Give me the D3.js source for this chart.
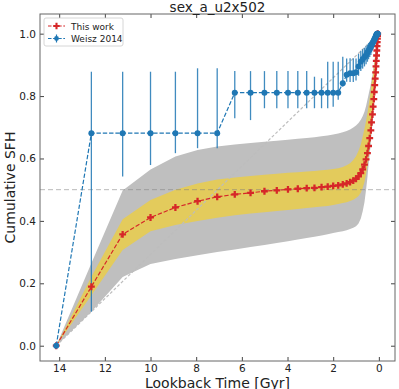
<!DOCTYPE html>
<html lang="en">
<head>
<meta charset="UTF-8">
<title>sex_a_u2x502</title>
<script src="https://cdn.jsdelivr.net/npm/d3@7"></script>
<style>
  body { margin: 0; background: #fff; }
  text { font-family: "DejaVu Sans", sans-serif; fill: #222; }
</style>
</head>
<body>
<svg id="chart" width="399" height="389"></svg>
<script>
// lookback time grid [Gyr]
const lookback = [14.13, 12.59, 11.22, 10.0, 8.91, 7.94, 7.08, 6.31, 5.62, 5.01,
  4.47, 3.98, 3.55, 3.16, 2.82, 2.51, 2.24, 2.0, 1.78, 1.58,
  1.41, 1.26, 1.12, 1.0, 0.89, 0.79, 0.71, 0.63, 0.56, 0.50,
  0.45, 0.40, 0.35, 0.32, 0.28, 0.25, 0.22, 0.20, 0.18, 0.16,
  0.14, 0.126, 0.112, 0.10, 0.089, 0.079, 0.071, 0.063, 0.056, 0.05];

// This work: median cumulative SFH
const sfhMed = [0, 0.189, 0.357, 0.411, 0.443, 0.463, 0.477, 0.485, 0.490, 0.495,
  0.498, 0.501, 0.503, 0.505, 0.506, 0.508, 0.510, 0.512, 0.514, 0.517,
  0.520, 0.524, 0.529, 0.535, 0.543, 0.553, 0.565, 0.580, 0.597, 0.617,
  0.640, 0.665, 0.690, 0.716, 0.741, 0.766, 0.790, 0.813, 0.835, 0.856,
  0.876, 0.895, 0.913, 0.930, 0.946, 0.960, 0.973, 0.984, 0.993, 1.0];

// inner (yellow) band
const sfhLo68 = [0, 0.162, 0.307, 0.367, 0.387, 0.400, 0.410, 0.418, 0.424, 0.428,
  0.432, 0.435, 0.438, 0.441, 0.444, 0.446, 0.448, 0.451, 0.454, 0.457,
  0.460, 0.464, 0.468, 0.473, 0.480, 0.490, 0.505, 0.525, 0.550, 0.580,
  0.610, 0.640, 0.670, 0.700, 0.730, 0.750, 0.775, 0.800, 0.820, 0.840,
  0.860, 0.880, 0.900, 0.920, 0.935, 0.950, 0.965, 0.978, 0.990, 1.0];
const sfhHi68 = [0, 0.221, 0.405, 0.467, 0.500, 0.520, 0.533, 0.539, 0.544, 0.548,
  0.551, 0.554, 0.556, 0.558, 0.560, 0.562, 0.564, 0.566, 0.569, 0.573,
  0.578, 0.585, 0.595, 0.607, 0.625, 0.645, 0.670, 0.695, 0.720, 0.745,
  0.770, 0.795, 0.820, 0.840, 0.855, 0.872, 0.890, 0.903, 0.916, 0.928,
  0.940, 0.950, 0.960, 0.970, 0.978, 0.985, 0.990, 0.994, 0.997, 1.0];

// outer (gray) band
const sfhLo95 = [0, 0.109, 0.220, 0.262, 0.278, 0.290, 0.300, 0.308, 0.316, 0.323,
  0.329, 0.335, 0.340, 0.345, 0.349, 0.353, 0.357, 0.361, 0.364, 0.367,
  0.370, 0.374, 0.378, 0.383, 0.392, 0.408, 0.430, 0.460, 0.500, 0.540,
  0.580, 0.615, 0.650, 0.680, 0.710, 0.740, 0.765, 0.790, 0.810, 0.830,
  0.850, 0.870, 0.890, 0.910, 0.925, 0.940, 0.955, 0.970, 0.985, 1.0];
const sfhHi95 = [0, 0.264, 0.497, 0.565, 0.606, 0.627, 0.638, 0.645, 0.650, 0.654,
  0.657, 0.660, 0.663, 0.666, 0.668, 0.671, 0.674, 0.677, 0.680, 0.684,
  0.688, 0.693, 0.699, 0.706, 0.714, 0.724, 0.735, 0.750, 0.768, 0.788,
  0.805, 0.822, 0.840, 0.852, 0.866, 0.885, 0.898, 0.910, 0.922, 0.935,
  0.945, 0.955, 0.963, 0.972, 0.978, 0.984, 0.989, 0.993, 0.997, 1.0];

// Weisz 2014
const weiszAge = lookback;
const weiszSfh = [0, 0.681, 0.681, 0.681, 0.681, 0.681, 0.681, 0.811, 0.811, 0.811,
  0.811, 0.811, 0.811, 0.811, 0.811, 0.811, 0.811, 0.811, 0.811, 0.841,
  0.868, 0.873, 0.873, 0.876, 0.895, 0.910, 0.918, 0.925, 0.932, 0.940,
  0.946, 0.952, 0.958, 0.963, 0.968, 0.973, 0.977, 0.981, 0.984, 0.987,
  0.990, 0.993, 0.995, 0.997, 0.998, 0.999, 1.0, 1.0, 1.0, 1.0];
const weiszLo = [0, 0.109, 0.542, 0.579, 0.617, 0.633, 0.633, 0.729, 0.723, 0.761,
  0.761, 0.761, 0.761, 0.761, 0.761, 0.761, 0.761, 0.766, 0.788, 0.830,
  0.846, 0.845, 0.845, 0.850, 0.865, 0.880, 0.888, 0.895, 0.902, 0.910,
  0.918, 0.925, 0.932, 0.940, 0.946, 0.952, 0.958, 0.964, 0.970, 0.975,
  0.980, 0.984, 0.988, 0.992, 0.995, 0.997, 1.0, 1.0, 1.0, 1.0];
const weiszHi = [0, 0.878, 0.878, 0.878, 0.878, 0.889, 0.889, 0.880, 0.880, 0.880,
  0.880, 0.880, 0.880, 0.880, 0.862, 0.857, 0.910, 0.910, 0.910, 0.926,
  0.920, 0.921, 0.921, 0.920, 0.935, 0.945, 0.950, 0.955, 0.960, 0.965,
  0.970, 0.974, 0.978, 0.981, 0.984, 0.987, 0.990, 0.992, 0.994, 0.996,
  0.998, 0.999, 1.0, 1.0, 1.0, 1.0, 1.0, 1.0, 1.0, 1.0];

const xTicks = [14, 12, 10, 8, 6, 4, 2, 0];
const yTicks = [0.0, 0.2, 0.4, 0.6, 0.8, 1.0];

const red = "#d62728", blue = "#1f77b4";

const svg = d3.select("#chart");
const mLeft = 40, mRight = 395, mTop = 14, mBottom = 361;

const x = d3.scaleLinear().domain([14.84, -0.707]).range([mLeft, mRight]);
const y = d3.scaleLinear().domain([-0.049, 1.063]).range([mBottom, mTop]);

svg.append("clipPath").attr("id", "clip")
  .append("rect").attr("x", mLeft).attr("y", mTop)
  .attr("width", mRight - mLeft).attr("height", mBottom - mTop);

const plot = svg.append("g").attr("clip-path", "url(#clip)");

const idx = d3.range(lookback.length);

// bands
plot.append("path")
  .datum(idx)
  .attr("fill", "#bfbfbf")
  .attr("d", d3.area().x(i => x(lookback[i])).y0(i => y(sfhLo95[i])).y1(i => y(sfhHi95[i])));
plot.append("path")
  .datum(idx)
  .attr("fill", "#e3cb5c")
  .attr("d", d3.area().x(i => x(lookback[i])).y0(i => y(sfhLo68[i])).y1(i => y(sfhHi68[i])));

// reference lines
plot.append("line")
  .attr("x1", x(lookback[0])).attr("y1", y(0))
  .attr("x2", x(0)).attr("y2", y(1))
  .attr("stroke", "#bdbdbd").attr("stroke-width", 1.2)
  .attr("stroke-dasharray", "3,2");
plot.append("line")
  .attr("x1", mLeft).attr("x2", mRight)
  .attr("y1", y(0.5)).attr("y2", y(0.5))
  .attr("stroke", "rgba(128,128,128,0.55)").attr("stroke-width", 1)
  .attr("stroke-dasharray", "5,3");

// Weisz error bars
plot.append("g").selectAll("line")
  .data(idx).enter()
  .append("line")
  .attr("x1", i => x(weiszAge[i])).attr("x2", i => x(weiszAge[i]))
  .attr("y1", i => y(weiszLo[i])).attr("y2", i => y(weiszHi[i]))
  .attr("stroke", blue).attr("stroke-opacity", 0.85).attr("stroke-width", 1.3);

// this work
plot.append("path")
  .datum(idx)
  .attr("fill", "none").attr("stroke", red).attr("stroke-width", 1.2)
  .attr("stroke-dasharray", "4.4,1.9")
  .attr("d", d3.line().x(i => x(lookback[i])).y(i => y(sfhMed[i])));
plot.append("g").selectAll("path")
  .data(idx).enter()
  .append("path")
  .attr("transform", i => "translate(" + x(lookback[i]) + "," + y(sfhMed[i]) + ")")
  .attr("d", d3.symbol(d3.symbolCross, 26))
  .attr("fill", red);

// Weisz line + points
plot.append("path")
  .datum(idx)
  .attr("fill", "none").attr("stroke", blue).attr("stroke-width", 1.2)
  .attr("stroke-dasharray", "4.4,1.9")
  .attr("d", d3.line().x(i => x(weiszAge[i])).y(i => y(weiszSfh[i])));
plot.append("g").selectAll("circle")
  .data(idx).enter()
  .append("circle")
  .attr("cx", i => x(weiszAge[i])).attr("cy", i => y(weiszSfh[i]))
  .attr("r", 3).attr("fill", blue);

// axes (ticks inward on all sides)
const ax = svg.append("g").attr("class", "axes");
ax.append("g")
  .attr("transform", "translate(0," + mBottom + ")")
  .call(d3.axisBottom(x).tickValues(xTicks).tickFormat(d3.format("d")).tickSizeInner(-4).tickSizeOuter(0).tickPadding(4));
ax.append("g")
  .attr("transform", "translate(0," + mTop + ")")
  .call(d3.axisTop(x).tickValues(xTicks).tickFormat("").tickSizeInner(-4).tickSizeOuter(0));
ax.append("g")
  .attr("transform", "translate(" + mLeft + ",0)")
  .call(d3.axisLeft(y).tickValues(yTicks).tickFormat(d3.format(".1f")).tickSizeInner(-4).tickSizeOuter(0).tickPadding(4));
ax.append("g")
  .attr("transform", "translate(" + mRight + ",0)")
  .call(d3.axisRight(y).tickValues(yTicks).tickFormat("").tickSizeInner(-4).tickSizeOuter(0));
ax.selectAll(".domain").remove();
ax.selectAll(".tick line").attr("stroke", "#444");
ax.selectAll(".tick text").attr("font-size", 10.5).attr("font-family", "DejaVu Sans").attr("fill", "#222");

svg.append("rect")
  .attr("x", mLeft).attr("y", mTop)
  .attr("width", mRight - mLeft).attr("height", mBottom - mTop)
  .attr("fill", "none").attr("stroke", "#666").attr("stroke-width", 1);

// title and labels
svg.append("text")
  .attr("x", (mLeft + mRight) / 2).attr("y", 11.5)
  .attr("text-anchor", "middle").attr("font-size", 13.5)
  .text("sex_a_u2x502");
svg.append("text")
  .attr("x", (mLeft + mRight) / 2).attr("y", 387.5)
  .attr("text-anchor", "middle").attr("font-size", 14)
  .text("Lookback Time [Gyr]");
svg.append("text")
  .attr("transform", "translate(15," + (mTop + mBottom) / 2 + ") rotate(-90)")
  .attr("text-anchor", "middle").attr("font-size", 14)
  .text("Cumulative SFH");

// legend
const lg = svg.append("g").attr("transform", "translate(44,18)");
lg.append("rect")
  .attr("width", 79).attr("height", 28).attr("rx", 2)
  .attr("fill", "#fff").attr("fill-opacity", 0.8)
  .attr("stroke", "#ccc").attr("stroke-width", 0.8);
const legendItems = [
  { label: "This work", color: red, mark: "cross" },
  { label: "Weisz 2014", color: blue, mark: "circle" }
];
legendItems.forEach((d, k) => {
  const g = lg.append("g").attr("transform", "translate(0," + (8 + k * 12.5) + ")");
  g.append("line")
    .attr("x1", 4).attr("x2", 21).attr("y1", 0).attr("y2", 0)
    .attr("stroke", d.color).attr("stroke-width", 1.2).attr("stroke-dasharray", "3.5,1.6");
  if (d.mark === "cross") {
    g.append("path").attr("transform", "translate(12.5,0)")
      .attr("d", d3.symbol(d3.symbolCross, 22)).attr("fill", d.color);
  } else {
    g.append("line").attr("x1", 12.5).attr("x2", 12.5).attr("y1", -4).attr("y2", 4)
      .attr("stroke", d.color).attr("stroke-width", 1.2);
    g.append("circle").attr("cx", 12.5).attr("cy", 0).attr("r", 2.4).attr("fill", d.color);
  }
  g.append("text")
    .attr("x", 27).attr("y", 3.5).attr("font-size", 9)
    .text(d.label);
});
</script>
</body>
</html>
